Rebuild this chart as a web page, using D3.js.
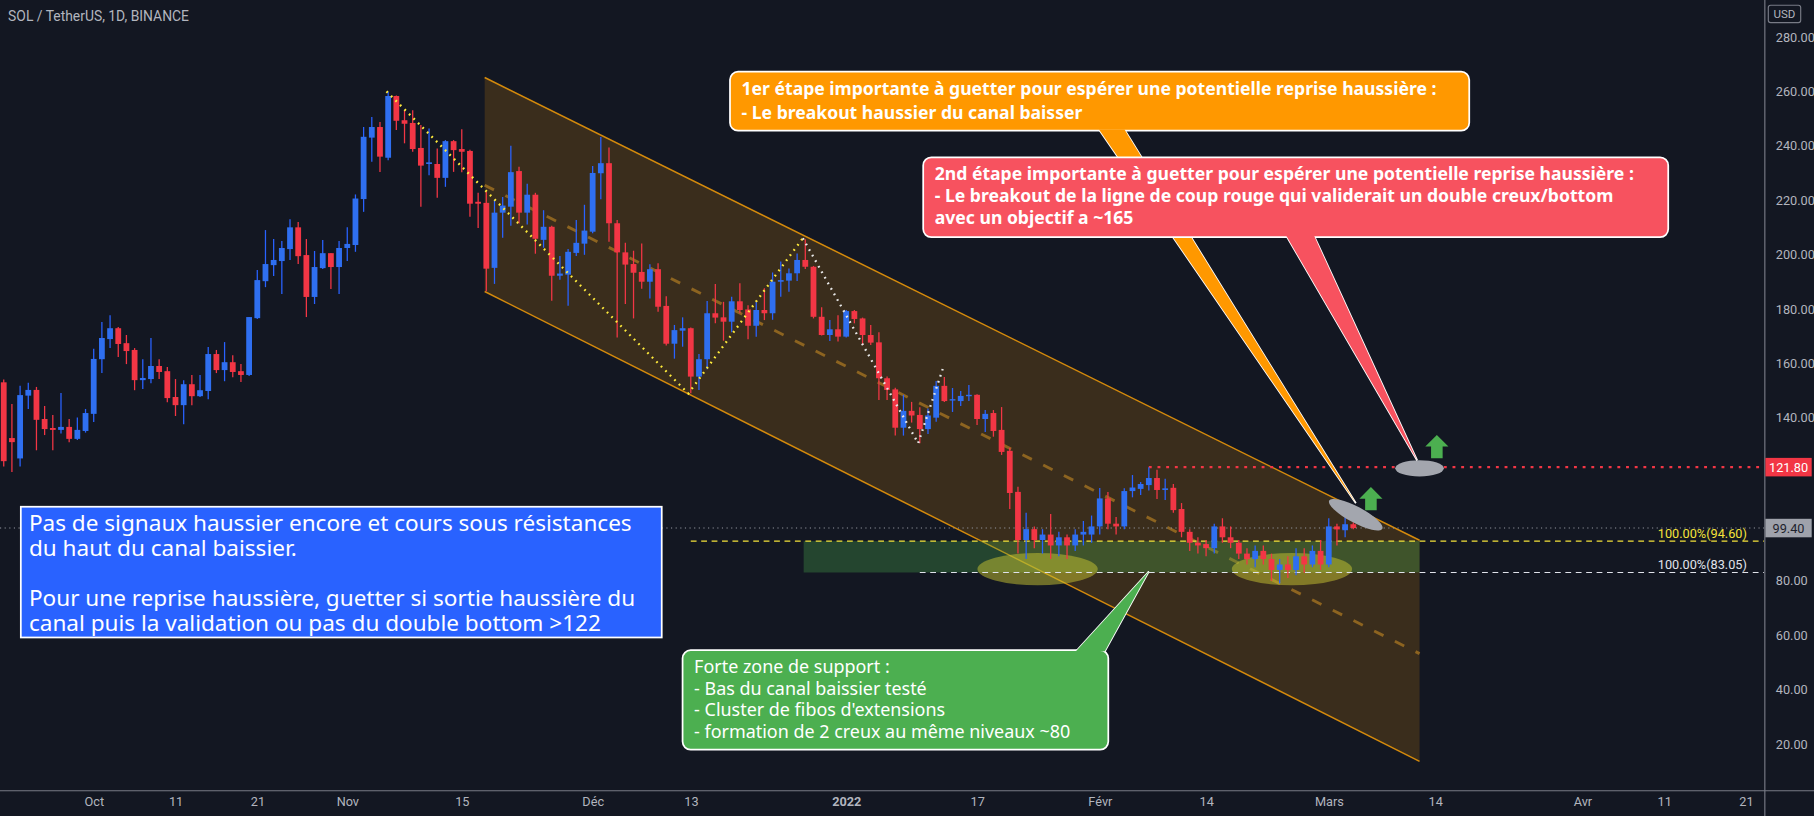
<!DOCTYPE html>
<html>
<head>
<meta charset="utf-8">
<script src="https://cdn.jsdelivr.net/npm/d3@7"></script>
<style>
  html, body { margin: 0; padding: 0; background: #131722; overflow: hidden; }
  svg { display: block; }
</style>
</head>
<body>
<svg id="chart" width="1814" height="816" viewBox="0 0 1568 705.3" preserveAspectRatio="none"></svg>
<script>
// daily candles SOL/USDT, first candle 2021-09-20
var startDate = new Date(2021, 8, 20);
var opens = [153,132.5,125,148.1,150.2,139.5,136.2,135.5,136.6,132.2,135.1,141.4,161.5,168.9,172.9,167.4,164.9,153.8,154.2,159,
  157.1,147.6,144.6,152.3,147.9,149.8,163.4,157.5,160.4,157.1,155.7,176.6,190.2,196.1,197.6,202,210,199.8,184.4,195,
  200.5,195.4,202.4,203.5,220.4,243,246.9,235.6,258.3,249.4,248.4,239.2,233.3,233.3,228.2,241.7,238.8,238.1,219.4,219,
  195.1,215.4,217.6,230.7,215.4,222,205.4,210.2,192.2,192.6,200.6,204,208.4,229.9,233.6,211.5,200.8,196.5,193.6,190,
  194.6,181.1,167.2,172,172.9,155.1,161.5,178.4,176.9,175.3,182.8,179.8,173.8,179.6,178.4,190,190.4,193.1,198,195.5,
  177.1,170.4,172.5,169.8,179.2,176.5,170.4,167.7,154.5,150.4,136.3,142.5,141,135.8,140,151.7,146.4,146.1,147.9,148.4,
  139.5,141.7,135.5,127.8,112.7,95,99,95,97,93,96,93,97,97,100,110.3,101,100,113,113.8,
  115.2,117.8,113.4,114.2,106.4,98,94,93.5,92,100,96,94,90,88,91,88,84,86,84,89,
  86,91,86,100,98.6,100.8];
var highs = [154,145,151.7,152.8,151.3,144.3,141,149.1,139.5,140.1,143.2,165.3,175.2,177.7,173.3,170.4,165.6,161.5,169.3,161.5,
  158.6,154.2,153.8,155.7,155.7,166,164.9,167.8,163,159.7,177,194.3,209,205.7,205,213,212,205.7,201.3,205.3,
  200.5,205,210,222.1,246.9,250.6,248.7,259.9,258.5,253.1,253.1,247.6,246.4,239,242.1,242.1,246.1,238.5,222.7,223.1,
  220,221.2,240,232.3,226,222.7,216.3,210.6,199.5,202,212.7,218.3,232.6,243.2,239.4,212.7,204.3,201.4,204.1,196.4,
  196.8,184.7,174.1,176.9,173.2,163.4,182.9,189.2,182.6,184.5,189.4,181.3,182.6,187.6,193.4,197.4,194.9,200.4,205.6,195.8,
  180.6,175.9,177.7,179.6,179.6,176.8,174.1,171.4,155.1,151,148.4,145.8,143.8,143.4,153.5,155,150.9,149.8,152,148.6,
  142.8,142.8,143.9,128.9,114.6,105,100,99,104.6,98,97,99,102,104,114.1,112.7,103.5,114,118.9,116.3,
  121.8,120.8,117.5,115.6,108.6,99,96,95,101,103,100,95,92,93,93,90,88,89,92,92,
  93,95,103,101,104.7,101.5];
var lows = [122,120,122,143.2,128,133.6,128,134.2,131,131.8,134.5,138.4,156.4,165.6,162.3,159.7,150.1,150.5,152.7,154.2,
  145.7,140.6,137.6,144.6,147.6,146.8,156.4,153.4,154.9,153.1,155.3,176.3,188,192.1,185.5,198,196.5,177,181.8,194.7,
  187.3,185.5,197.6,201,215.7,234.1,230.4,234.7,245.8,240.9,237.8,217.6,229.2,220.9,224.9,230.4,230.3,213.9,209.8,186.5,
  189.2,206.2,210.6,211.4,211,200.3,202.5,183,190.7,181.2,199.5,199.9,207.8,220.3,204.7,169.5,181.8,176.5,187.4,183.8,
  179,166.5,161.7,166.1,149,150.2,157.8,174.7,168.3,171.4,178.4,168.8,169.8,175.9,176,184.5,186.3,190.3,194.7,176.5,
  170.2,168.2,168,169.5,174.7,166.7,166.7,146.5,146.5,133.4,133.4,138.2,130.6,134,138.5,145.8,142.1,144.3,146.1,137.3,
  134.7,133,126.3,106.4,90,88,92,90,88,89,88,91,93,94,97,99,97,99,110.7,111.6,
  113.2,110.1,109.7,105,96,91,90,89,90,94,92,88,86,85,86,80,79,81,82,83,
  85,84,85,93,96,99];
var closes = [124,131,148.3,150.2,139.2,135.8,135.5,136.6,132.2,135.5,141.7,161.6,169.3,172.9,167.1,164.5,153.8,154.6,159,156.8,
  147.2,144.6,152.3,147.9,150.1,163.4,157.5,160.4,156.8,155.7,177,190.6,196.5,198,202.4,210,199.4,184.4,195.4,200.5,
  195.4,202.4,203.9,220.6,243.3,246.9,236,258.3,249.2,248.1,238.8,232.7,233.9,228.2,241.7,238.4,237.8,218.7,218.7,194.8,
  215.4,218,230.3,215.4,222,205.8,210.2,192.2,193,201,204.3,208.8,230,233.6,211.5,200.8,196.3,193.3,190,194.6,
  180.8,167.2,172.2,172.9,155.1,161.5,178.4,176.8,175.3,182.8,179.6,173.8,179.6,178.4,190,190.6,193.1,198,195.5,177.1,
  170.4,172.5,169.8,179.2,176.3,170.4,167.6,154.5,150.2,136.3,142.5,140.8,135.8,140.8,151.7,146.1,146.8,148,148.4,139.5,
  141.4,135.1,127.4,112.3,95,99,95,97,93,96,93,97,98,100,110.3,101,100,113,114.3,115.6,
  117.8,113.4,114,106,98,94,93,92,100,96,94,90,88,91,88,84,86,84,89,86,
  91,86,100,98.9,100.8,99.4];

var priceTicks = [20,40,60,80,100,120,140,160,180,200,220,240,260,280];
var timeTickDates = ['2021-10-01','2021-10-11','2021-10-21','2021-11-01','2021-11-15','2021-12-01','2021-12-13','2022-01-01',
  '2022-01-17','2022-02-01','2022-02-14','2022-03-01','2022-03-14','2022-04-01','2022-04-11','2022-04-21'];
var timeTickLabels = ['Oct','11','21','Nov','15','Déc','13','2022','17','Févr','14','Mars','14','Avr','11','21'];

// drawings, as [day offset from 1 Oct 2021, price]
var channelTop = [[47.8,265.1],[162.1,94.9]];
var channelBottom = [[47.8,186.4],[162.1,13.6]];
var channelMid = [[47.8,225.5],[162.1,53.2]];
var zigYellow = [[35.8,260],[72.7,148.9],[86.7,206]];
var zigWhite = [[86.7,206],[100.8,130.6],[103.8,157.9]];
var lastPrice = 99.4, necklinePrice = 121.8, fibHigh = 94.6, fibLow = 83.05;

var svg = d3.select('#chart');
var W = 1568, H = 705.3, axisX = 1525, axisY = 683;
var day0 = new Date(2021, 9, 1);
function dt(d) { return new Date(day0.getTime() + d * 864e5); }

var x = d3.scaleTime().domain([day0, new Date(2022, 3, 21)]).range([81, 81 + 202 * 7.07]);
var y = d3.scaleLinear().domain([280, 20]).range([32, 643]);
var pt = function(p) { return [x(dt(p[0])), y(p[1])]; };

var candles = opens.map(function(o, i) {
  return { date: d3.timeDay.offset(startDate, i), o: o, h: highs[i], l: lows[i], c: closes[i] };
});

var plot = svg.append('g');

// channel
var poly = [channelTop[0], channelTop[1], channelBottom[1], channelBottom[0]].map(pt);
plot.append('polygon').attr('points', poly.join(' ')).attr('fill', '#ff9800').attr('fill-opacity', 0.17);
[channelTop, channelBottom].forEach(function(l) {
  var a = pt(l[0]), b = pt(l[1]);
  plot.append('line').attr('x1', a[0]).attr('y1', a[1]).attr('x2', b[0]).attr('y2', b[1])
    .attr('stroke', '#d48a0c').attr('stroke-width', 1.3);
});
var m0 = pt(channelMid[0]), m1 = pt(channelMid[1]);
plot.append('line').attr('x1', m0[0]).attr('y1', m0[1]).attr('x2', m1[0]).attr('y2', m1[1])
  .attr('stroke', '#8d6420').attr('stroke-width', 2.5).attr('stroke-dasharray', '9,11');

// support zone
plot.append('rect').attr('x', x(dt(86.8))).attr('y', y(fibHigh))
  .attr('width', x(dt(162.1)) - x(dt(86.8))).attr('height', y(fibLow) - y(fibHigh))
  .attr('fill', '#4caf50').attr('fill-opacity', 0.3);

// ellipses at the two lows
[[115.4, 84.3], [146.5, 84.3]].forEach(function(c) {
  plot.append('ellipse').attr('cx', x(dt(c[0]))).attr('cy', y(c[1])).attr('rx', 52).attr('ry', 14)
    .attr('fill', '#c9c531').attr('fill-opacity', 0.5);
});

// horizontal lines
plot.append('line').attr('x1', 0).attr('x2', axisX).attr('y1', y(lastPrice)).attr('y2', y(lastPrice))
  .attr('stroke', '#9598a1').attr('stroke-width', 1).attr('stroke-dasharray', '1,3');
plot.append('line').attr('x1', x(dt(73))).attr('x2', axisX).attr('y1', y(fibHigh)).attr('y2', y(fibHigh))
  .attr('stroke', '#f5e33a').attr('stroke-width', 1.2).attr('stroke-dasharray', '5,4');
plot.append('line').attr('x1', x(dt(101))).attr('x2', axisX).attr('y1', y(fibLow)).attr('y2', y(fibLow))
  .attr('stroke', '#e0e3eb').attr('stroke-width', 1).attr('stroke-dasharray', '5,4');
plot.append('line').attr('x1', x(dt(129))).attr('x2', axisX).attr('y1', y(necklinePrice)).attr('y2', y(necklinePrice))
  .attr('stroke', '#f23645').attr('stroke-width', 2).attr('stroke-dasharray', '2.5,5');

plot.append('text').attr('x', 1510).attr('y', y(fibHigh) - 3).attr('text-anchor', 'end')
  .attr('fill', '#f5e33a').attr('font-size', 11).attr('font-family', 'Liberation Sans Narrow, Roboto, sans-serif')
  .text('100.00%(94.60)');
plot.append('text').attr('x', 1510).attr('y', y(fibLow) - 3).attr('text-anchor', 'end')
  .attr('fill', '#e0e3eb').attr('font-size', 11).attr('font-family', 'Liberation Sans Narrow, Roboto, sans-serif')
  .text('100.00%(83.05)');

// candles
var bw = 5;
var cg = plot.selectAll('.candle').data(candles).enter().append('g').attr('class', 'candle');
cg.append('line')
  .attr('x1', function(d) { return x(d.date); }).attr('x2', function(d) { return x(d.date); })
  .attr('y1', function(d) { return y(d.h); }).attr('y2', function(d) { return y(d.l); })
  .attr('stroke', function(d) { return d.c >= d.o ? '#2962ff' : '#f23645'; }).attr('stroke-width', 1.1);
cg.append('rect')
  .attr('x', function(d) { return x(d.date) - bw / 2; }).attr('width', bw)
  .attr('y', function(d) { return y(Math.max(d.o, d.c)); })
  .attr('height', function(d) { return Math.max(1.2, Math.abs(y(d.o) - y(d.c))); })
  .attr('fill', function(d) { return d.c >= d.o ? '#2f6ff0' : '#f23645'; });

// zigzags
var zl = d3.line().x(function(p) { return pt(p)[0]; }).y(function(p) { return pt(p)[1]; });
plot.append('path').attr('d', zl(zigYellow)).attr('fill', 'none').attr('stroke', '#ffeb3b')
  .attr('stroke-width', 2).attr('stroke-dasharray', '1.5,4');
plot.append('path').attr('d', zl(zigWhite)).attr('fill', 'none').attr('stroke', '#e8e8e8')
  .attr('stroke-width', 2).attr('stroke-dasharray', '1.5,4');

// callouts
var font = 'Noto Sans, Open Sans, sans-serif';
function callout(box, tail, fill, lines, size, weight, lh) {
  var g = svg.append('g');
  g.append('polygon').attr('points', tail.join(' ')).attr('fill', fill).attr('stroke', '#ffffff').attr('stroke-width', 1.5);
  g.append('rect').attr('x', box[0]).attr('y', box[1]).attr('width', box[2]).attr('height', box[3])
    .attr('rx', 7).attr('fill', fill).attr('stroke', '#ffffff').attr('stroke-width', 1.5);
  g.append('polygon').attr('points', tail.join(' ')).attr('fill', fill);
  lines.forEach(function(t, i) {
    g.append('text').attr('x', box[0] + 10).attr('y', box[1] + 20 + i * lh).attr('fill', '#ffffff')
      .attr('font-family', font).attr('font-size', size).attr('font-weight', weight).text(t);
  });
}

// gray ellipses + arrows
svg.append('ellipse').attr('cx', x(dt(162.1))).attr('cy', y(necklinePrice) + 1).attr('rx', 21).attr('ry', 7).attr('fill', '#a3a6ae');
svg.append('ellipse').attr('cx', 0).attr('cy', 0).attr('rx', 26).attr('ry', 7).attr('fill', '#a3a6ae')
  .attr('transform', 'translate(' + x(dt(154.3)) + ',' + y(104.3) + ') rotate(28)');
[[1242, 376], [1185, 421]].forEach(function(a) {
  svg.append('polygon').attr('fill', '#4caf50')
    .attr('points', [[a[0], a[1]], [a[0] + 10, a[1] + 10], [a[0] + 5, a[1] + 10], [a[0] + 5, a[1] + 20],
      [a[0] - 5, a[1] + 20], [a[0] - 5, a[1] + 10], [a[0] - 10, a[1] + 10]].join(' '));
});

callout([631, 62, 639, 51], [[950, 112], [972, 112], [1172, 435]], '#ff9800',
  ['1er étape importante à guetter pour espérer une potentielle reprise haussière :',
   '- Le breakout haussier du canal baisser'], 15.2, 'bold', 21);
callout([798, 136, 644, 69], [[1112, 204], [1136, 204], [1225, 398]], '#f7525f',
  ['2nd étape importante à guetter pour espérer une potentielle reprise haussière :',
   '- Le breakout de la ligne de coup rouge qui validerait un double creux/bottom',
   'avec un objectif a ~165'], 15.2, 'bold', 19);
callout([590, 562, 368, 86], [[930, 563], [955, 563], [993, 494]], '#4caf50',
  ['Forte zone de support :', '- Bas du canal baissier testé', '- Cluster de fibos d\'extensions',
   '- formation de 2 creux au même niveaux ~80'], 15.5, 'normal', 18.5);

// blue text box
var bb = svg.append('g');
bb.append('rect').attr('x', 18).attr('y', 438).attr('width', 554).attr('height', 113)
  .attr('fill', '#2962ff').attr('stroke', '#ffffff').attr('stroke-width', 1.5);
['Pas de signaux haussier encore et cours sous résistances', 'du haut du canal baissier.', '',
 'Pour une reprise haussière, guetter si sortie haussière du', 'canal puis la validation ou pas du double bottom >122']
  .forEach(function(t, i) {
    bb.append('text').attr('x', 25).attr('y', 459 + i * 21.7).attr('fill', '#ffffff')
      .attr('font-family', font).attr('font-size', 19.5).text(t);
  });

// axes
svg.append('rect').attr('x', axisX).attr('y', 0).attr('width', W - axisX).attr('height', H).attr('fill', '#131722');
svg.append('rect').attr('x', 0).attr('y', axisY).attr('width', W).attr('height', H - axisY).attr('fill', '#131722');
svg.append('line').attr('x1', axisX + 0.5).attr('x2', axisX + 0.5).attr('y1', 0).attr('y2', H).attr('stroke', '#787b86');
svg.append('line').attr('x1', 0).attr('x2', W).attr('y1', axisY + 0.5).attr('y2', axisY + 0.5).attr('stroke', '#787b86');

// hide tick labels covered by the price tags
var shownTicks = priceTicks.filter(function(p) {
  return Math.abs(y(p) - y(necklinePrice)) > 12 && Math.abs(y(p) - y(lastPrice)) > 12;
});
var yAxis = d3.axisRight(y).tickValues(shownTicks).tickFormat(d3.format('.2f')).tickSize(0).tickPadding(10);
svg.append('g').attr('transform', 'translate(' + axisX + ',0)').call(yAxis)
  .call(function(g) { g.select('.domain').remove(); })
  .selectAll('text').attr('fill', '#b2b5be').attr('font-size', 11).attr('font-family', 'Roboto, sans-serif');

var xAxis = d3.axisBottom(x).tickValues(timeTickDates.map(function(s) { return new Date(s + 'T00:00:00'); }))
  .tickFormat(function(d, i) { return timeTickLabels[i]; }).tickSize(0).tickPadding(6);
svg.append('g').attr('transform', 'translate(0,' + axisY + ')').call(xAxis)
  .call(function(g) { g.select('.domain').remove(); })
  .selectAll('text').attr('fill', '#b2b5be').attr('font-size', 11).attr('font-family', 'Roboto, sans-serif')
  .attr('font-weight', function(d, i) { return timeTickLabels[i] === '2022' ? 'bold' : 'normal'; });

// price labels on axis
function priceTag(p, bg, fg) {
  svg.append('rect').attr('x', axisX + 1).attr('y', y(p) - 8).attr('width', 40).attr('height', 16).attr('fill', bg);
  svg.append('text').attr('x', axisX + 21).attr('y', y(p) + 4).attr('text-anchor', 'middle').attr('fill', fg)
    .attr('font-size', 11).attr('font-family', 'Roboto, sans-serif').text(p.toFixed(2));
}
priceTag(necklinePrice, '#f23645', '#ffffff');
priceTag(lastPrice, '#9fa2ab', '#1e222d');

// USD badge + title
svg.append('rect').attr('x', 1528.5).attr('y', 4.5).attr('width', 28).attr('height', 15).attr('rx', 2)
  .attr('fill', 'none').attr('stroke', '#787b86');
svg.append('text').attr('x', 1542.5).attr('y', 15.5).attr('text-anchor', 'middle').attr('fill', '#b2b5be')
  .attr('font-size', 10).attr('font-family', 'Roboto, sans-serif').text('USD');
svg.append('text').attr('x', 7).attr('y', 18).attr('fill', '#b2b5be').attr('font-size', 12)
  .attr('font-family', 'Roboto, sans-serif').text('SOL / TetherUS, 1D, BINANCE');
</script>
</body>
</html>
